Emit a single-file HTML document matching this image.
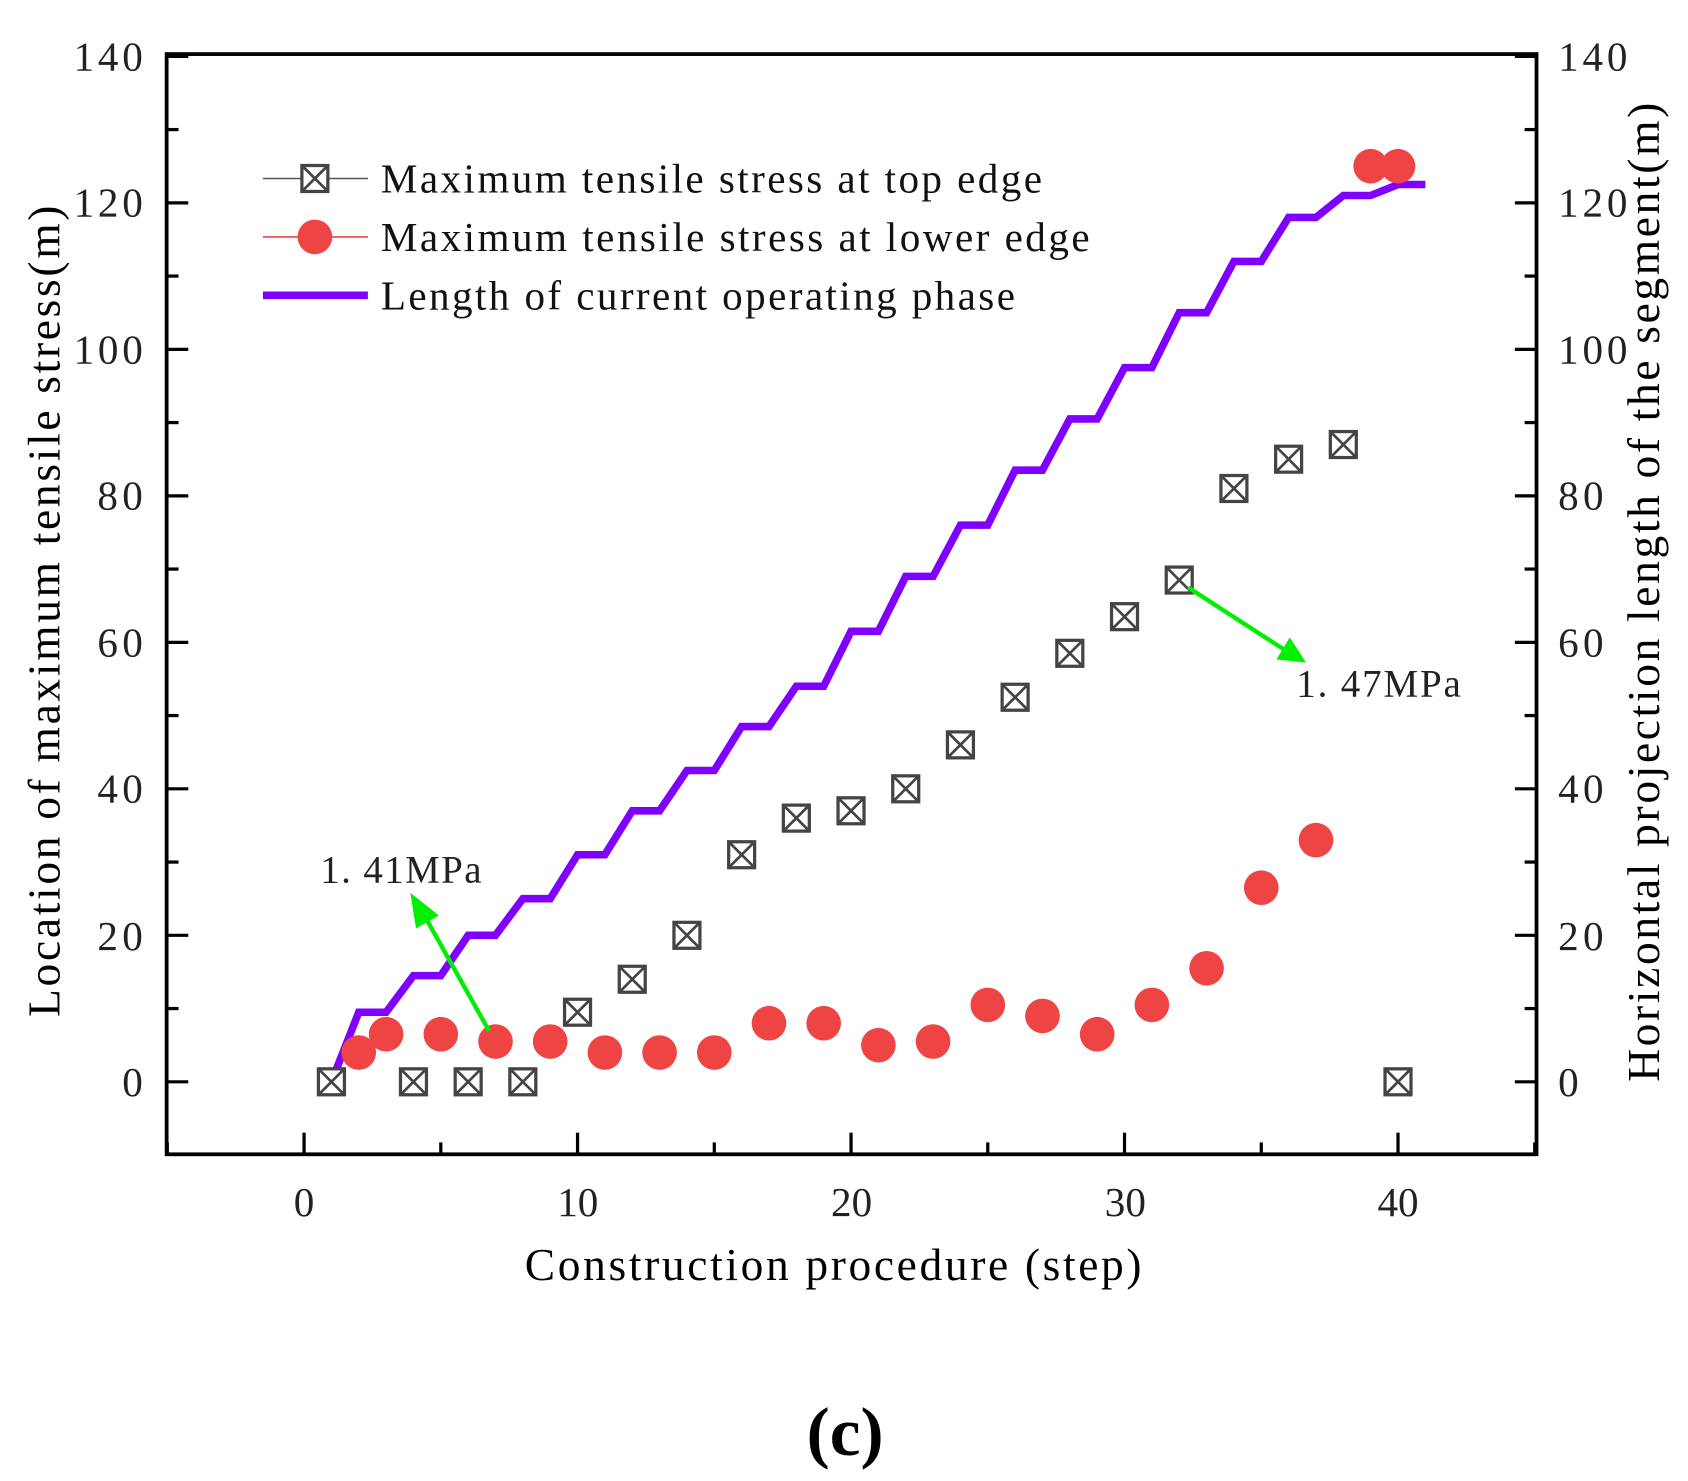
<!DOCTYPE html>
<html><head><style>body{margin:0;background:#fff}svg{display:block}</style></head><body>
<svg id="s" width="1688" height="1481" viewBox="0 0 1560 1369" preserveAspectRatio="none" xmlns="http://www.w3.org/2000/svg" font-family="Liberation Serif, serif">
<rect width="1560" height="1369" fill="#fff"/>
<g id="ticks" stroke="#000" stroke-width="3"></g>
<rect x="154" y="50" width="1266" height="1017" fill="none" stroke="#000" stroke-width="3.5"/>
<g font-size="38" fill="#222">
<text x="132" y="1013" text-anchor="end">0</text><text x="132" y="878" text-anchor="end" textLength="42">20</text><text x="132" y="742" text-anchor="end" textLength="42">40</text><text x="132" y="607" text-anchor="end" textLength="42">60</text><text x="132" y="471" text-anchor="end" textLength="42">80</text><text x="132" y="336" text-anchor="end" textLength="64">100</text><text x="132" y="200" text-anchor="end" textLength="64">120</text><text x="132" y="65" text-anchor="end" textLength="64">140</text>
<text x="1440" y="1013">0</text><text x="1440" y="878" textLength="42">20</text><text x="1440" y="742" textLength="42">40</text><text x="1440" y="607" textLength="42">60</text><text x="1440" y="471" textLength="42">80</text><text x="1440" y="336" textLength="64">100</text><text x="1440" y="200" textLength="64">120</text><text x="1440" y="65" textLength="64">140</text>
<text x="281" y="1124" text-anchor="middle">0</text><text x="534" y="1124" text-anchor="middle">10</text><text x="787" y="1124" text-anchor="middle">20</text><text x="1040" y="1124" text-anchor="middle">30</text><text x="1292" y="1124" text-anchor="middle">40</text>
</g>
<text x="485" y="1183" font-size="42" textLength="570">Construction procedure (step)</text>
<text transform="translate(55,940) rotate(-90)" font-size="42" textLength="750">Location of maximum tensile stress(m)</text>
<text transform="translate(1533,1000) rotate(-90)" font-size="42" textLength="905">Horizontal projection length of the segment(m)</text>
<text x="781" y="1345" font-size="64" font-weight="bold" text-anchor="middle">(c)</text>
<g id="data"></g>
<line x1="243" y1="165" x2="340" y2="165" stroke="#555" stroke-width="1.5"/>
<line x1="243" y1="219" x2="340" y2="219" stroke="#e44" stroke-width="1.5"/>
<line x1="243" y1="273" x2="340" y2="273" stroke="#7f00ff" stroke-width="7"/>
<g id="leg"></g>
<g font-size="38" fill="#111">
<text x="352" y="178" textLength="611">Maximum tensile stress at top edge</text>
<text x="352" y="232" textLength="655">Maximum tensile stress at lower edge</text>
<text x="352" y="286" textLength="586">Length of current operating phase</text>
</g>
<g font-size="36" fill="#222"><text x="296" y="816" textLength="149">1. 41MPa</text><text x="1198" y="644" textLength="152">1. 47MPa</text></g>
<g stroke="#00ee00" stroke-width="4" fill="#00ee00">
<line x1="452" y1="953" x2="392" y2="846"/><polygon points="382,830 402,846 386,855"/>
<line x1="1098" y1="543" x2="1186" y2="600"/><polygon points="1203,610 1183,608 1192,593"/>
</g>
</svg>
<script>
const NS="http://www.w3.org/2000/svg";
const X=v=>281+v*25.275, Y=v=>1000-v*6.771;
function el(p,t,a){const e=document.createElementNS(NS,t);for(const k in a)e.setAttribute(k,a[k]);p.appendChild(e);return e;}
const tk=document.getElementById('ticks');
for(let v=-5;v<=45;v+=5){const L=v%10==0?20:11;el(tk,'line',{x1:X(v),x2:X(v),y1:1067,y2:1067-L});}
for(let v=0;v<=140;v+=10){const L=v%20==0?20:11;el(tk,'line',{x1:154,x2:154+L,y1:Y(v),y2:Y(v)});el(tk,'line',{x1:1420,x2:1420-L,y1:Y(v),y2:Y(v)});}
const d=document.getElementById('data');
const st=[[1,0],[2,9.5],[3,9.5],[4,14.5],[5,14.5],[6,20],[7,20],[8,25],[9,25],[10,31],[11,31],[12,37],[13,37],[14,42.5],[15,42.5],[16,48.5],[17,48.5],[18,54],[19,54],[20,61.5],[21,61.5],[22,69],[23,69],[24,76],[25,76],[26,83.5],[27,83.5],[28,90.5],[29,90.5],[30,97.5],[31,97.5],[32,105],[33,105],[34,112],[35,112],[36,118],[37,118],[38,121],[39,121],[40,122.5],[41,122.5]];
el(d,'polyline',{points:st.map(p=>X(p[0])+','+Y(p[1])).join(' '),fill:'none',stroke:'#7f00ff','stroke-width':7});
function sq(g,x,y){el(g,'rect',{x:x-12,y:y-12,width:24,height:24,fill:'#fff',stroke:'#444','stroke-width':3});el(g,'path',{d:`M${x-12} ${y-12}L${x+12} ${y+12}M${x+12} ${y-12}L${x-12} ${y+12}`,stroke:'#444','stroke-width':2.5});}
const sqs=[[1,0],[4,0],[6,0],[8,0],[10,9.5],[12,14],[14,20],[16,31],[18,36],[20,37],[22,40],[24,46],[26,52.5],[28,58.5],[30,63.5],[32,68.5],[34,81],[36,85],[38,87],[40,0]];
sqs.forEach(p=>sq(d,X(p[0]),Y(p[1])));
const cs=[[2,4],[3,6.5],[5,6.5],[7,5.5],[9,5.5],[11,4],[13,4],[15,4],[17,8],[19,8],[21,5],[23,5.5],[25,10.5],[27,9],[29,6.5],[31,10.5],[33,15.5],[35,26.5],[37,33],[39,125],[40,125]];
cs.forEach(p=>el(d,'circle',{cx:X(p[0]),cy:Y(p[1]),r:16,fill:'#ee4444'}));
const lg=document.getElementById('leg');sq(lg,291,165);el(lg,'circle',{cx:291,cy:219,r:16,fill:'#ee4444'});
</script>
</body></html>
